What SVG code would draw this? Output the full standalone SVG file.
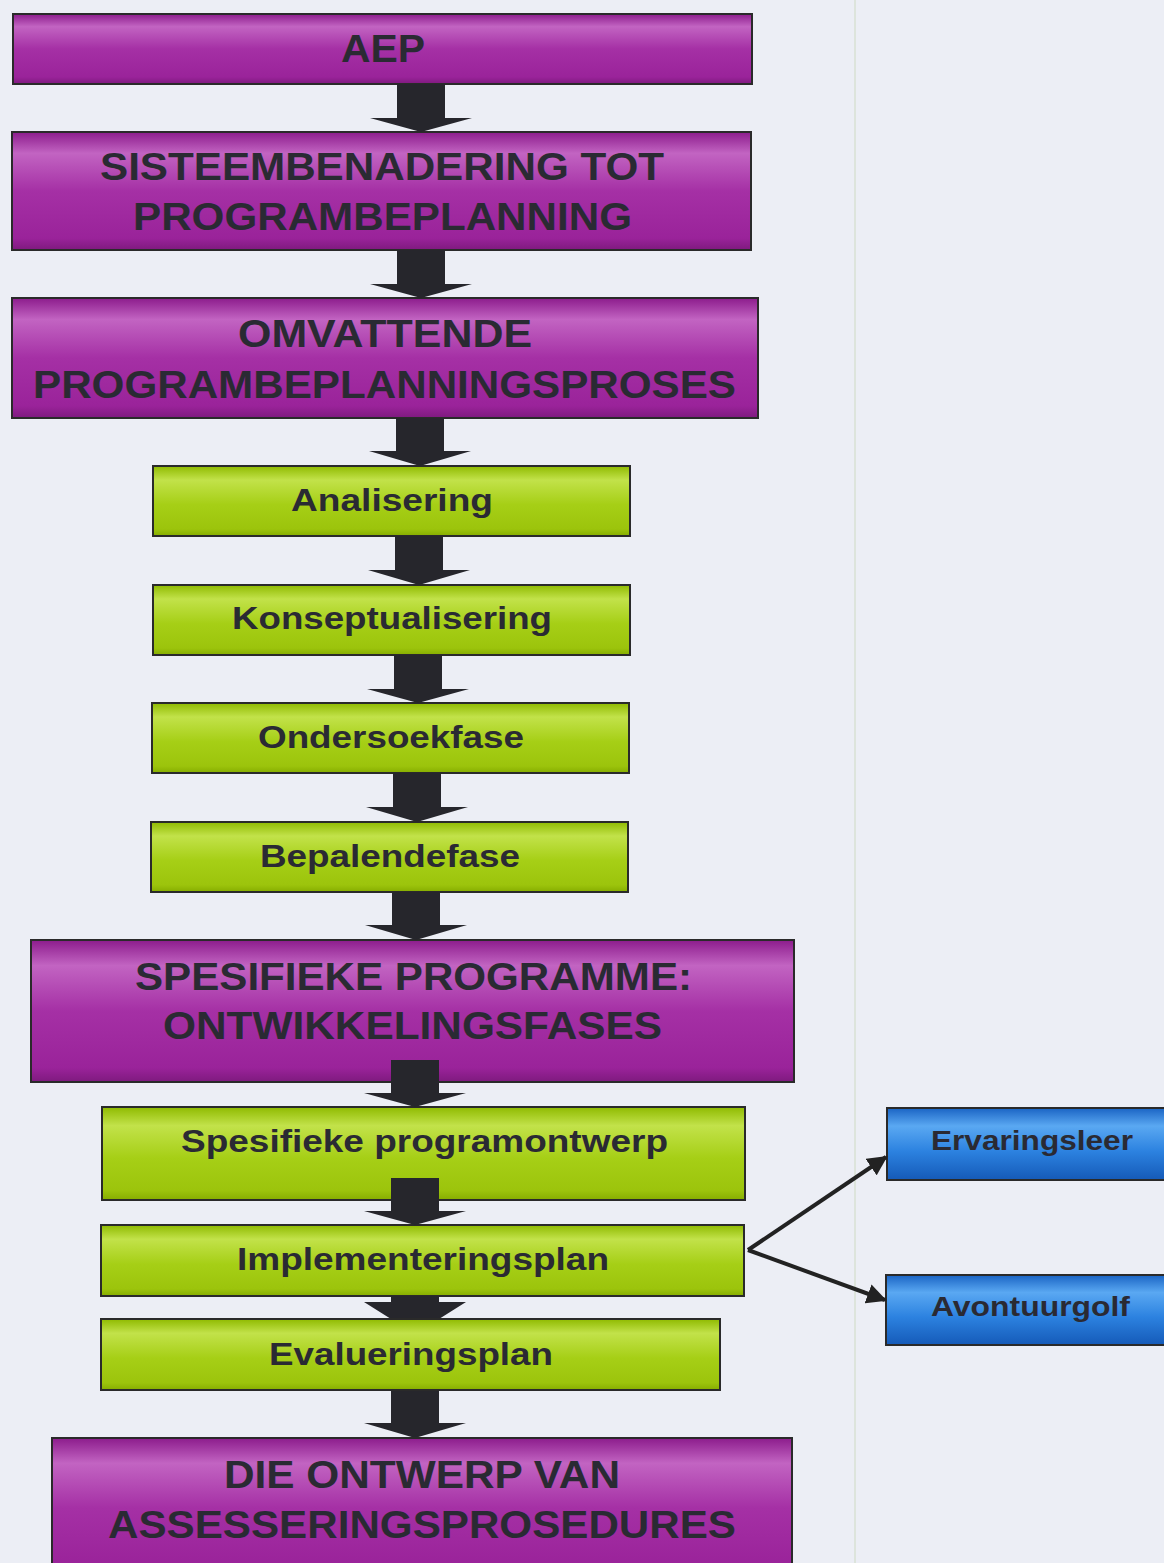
<svg xmlns="http://www.w3.org/2000/svg" width="1164" height="1563" viewBox="0 0 1164 1563">
<defs>
<linearGradient id="gp" x1="0" y1="0" x2="0" y2="1">
<stop offset="0" stop-color="#8c1c8c"/>
<stop offset="0.18" stop-color="#c264c2"/>
<stop offset="0.5" stop-color="#a530a5"/>
<stop offset="0.9" stop-color="#9a239a"/>
<stop offset="1" stop-color="#7e1a7e"/>
</linearGradient>
<linearGradient id="gg" x1="0" y1="0" x2="0" y2="1">
<stop offset="0" stop-color="#8fba00"/>
<stop offset="0.2" stop-color="#c2e24a"/>
<stop offset="0.55" stop-color="#a6cf16"/>
<stop offset="0.9" stop-color="#9cc40c"/>
<stop offset="1" stop-color="#86ad00"/>
</linearGradient>
<linearGradient id="gb" x1="0" y1="0" x2="0" y2="1">
<stop offset="0" stop-color="#1a64c4"/>
<stop offset="0.25" stop-color="#5aa8f2"/>
<stop offset="0.6" stop-color="#2c82e0"/>
<stop offset="1" stop-color="#155ab8"/>
</linearGradient>
<marker id="ah" viewBox="0 0 10 10" refX="9" refY="5" markerWidth="5" markerHeight="5" orient="auto" markerUnits="strokeWidth">
<path d="M0,0 L10,5 L0,10 z" fill="#222"/>
</marker>
</defs>
<style>
.p{fill:url(#gp);stroke:#2a2a2a;stroke-width:2}
.g{fill:url(#gg);stroke:#2a2a2a;stroke-width:2}
.b{fill:url(#gb);stroke:#2a2a2a;stroke-width:2}
text{font-family:"Liberation Sans",Arial,sans-serif;font-weight:bold;fill:#2a2a33;text-anchor:middle}
.tp{font-size:38px}
.tg{font-size:31px}
.tb{font-size:28px}
.ar{fill:#26262c}
.dl{stroke:#222;stroke-width:4;fill:none;marker-end:url(#ah)}
</style>
<rect width="1164" height="1563" fill="#eceef5"/>
<line x1="855" y1="0" x2="855" y2="1563" stroke="#dde4dc" stroke-width="2"/>

<g id="nodes">
<g id="n-aep"><rect class="p" x="13" y="14" width="739" height="70"/><text class="tp" x="383" y="62" textLength="84" lengthAdjust="spacingAndGlyphs">AEP</text></g>
<g id="n-sisteem"><rect class="p" x="12" y="132" width="739" height="118"/><text class="tp" x="382" y="180" textLength="564" lengthAdjust="spacingAndGlyphs">SISTEEMBENADERING TOT</text><text class="tp" x="382.5" y="230" textLength="499" lengthAdjust="spacingAndGlyphs">PROGRAMBEPLANNING</text></g>
<g id="n-omvattende"><rect class="p" x="12" y="298" width="746" height="120"/><text class="tp" x="385" y="347" textLength="294" lengthAdjust="spacingAndGlyphs">OMVATTENDE</text><text class="tp" x="384.5" y="398" textLength="703" lengthAdjust="spacingAndGlyphs">PROGRAMBEPLANNINGSPROSES</text></g>
<g id="n-analisering"><rect class="g" x="153" y="466" width="477" height="70"/><text class="tg" x="392" y="511" textLength="202" lengthAdjust="spacingAndGlyphs">Analisering</text></g>
<g id="n-konsept"><rect class="g" x="153" y="585" width="477" height="70"/><text class="tg" x="392" y="629" textLength="320" lengthAdjust="spacingAndGlyphs">Konseptualisering</text></g>
<g id="n-ondersoek"><rect class="g" x="152" y="703" width="477" height="70"/><text class="tg" x="391" y="748" textLength="266" lengthAdjust="spacingAndGlyphs">Ondersoekfase</text></g>
<g id="n-bepalende"><rect class="g" x="151" y="822" width="477" height="70"/><text class="tg" x="390" y="867" textLength="260" lengthAdjust="spacingAndGlyphs">Bepalendefase</text></g>
<g id="n-spesifieke"><rect class="p" x="31" y="940" width="763" height="142"/><text class="tp" x="413.5" y="990" textLength="557" lengthAdjust="spacingAndGlyphs">SPESIFIEKE PROGRAMME:</text><text class="tp" x="412.5" y="1039" textLength="499" lengthAdjust="spacingAndGlyphs">ONTWIKKELINGSFASES</text></g>
<g id="n-programontwerp"><rect class="g" x="102" y="1107" width="643" height="93"/><text class="tg" x="424.5" y="1152" textLength="487" lengthAdjust="spacingAndGlyphs">Spesifieke programontwerp</text></g>
<g id="n-implementering"><rect class="g" x="101" y="1225" width="643" height="71"/><text class="tg" x="423" y="1270" textLength="372" lengthAdjust="spacingAndGlyphs">Implementeringsplan</text></g>
<g id="n-ervaringsleer"><rect class="b" x="887" y="1108" width="290" height="72"/><text class="tb" x="1032" y="1150" textLength="202" lengthAdjust="spacingAndGlyphs">Ervaringsleer</text></g>
<g id="n-avontuurgolf"><rect class="b" x="886" y="1275" width="290" height="70"/><text class="tb" x="1030.5" y="1316" textLength="199" lengthAdjust="spacingAndGlyphs">Avontuurgolf</text></g>
</g>

<g id="connectors">
<polygon class="ar" points="397,84 445,84 445,118 472,118 421,132 370,118 397,118"/>
<polygon class="ar" points="397,250 445,250 445,284 472,284 421,298 370,284 397,284"/>
<polygon class="ar" points="396,418 444,418 444,451 471,451 420,466 369,451 396,451"/>
<polygon class="ar" points="395,536 443,536 443,570 470,570 419,585 368,570 395,570"/>
<polygon class="ar" points="394,655 442,655 442,689 469,689 418,703 367,689 394,689"/>
<polygon class="ar" points="393,773 441,773 441,807 468,807 417,822 366,807 393,807"/>
<polygon class="ar" points="392,892 440,892 440,925 467,925 416,940 365,925 392,925"/>
<polygon class="ar" points="391,1060 439,1060 439,1093 466,1093 415,1107 364,1093 391,1093"/>
<polygon class="ar" points="391,1178 439,1178 439,1211 466,1211 415,1225 364,1211 391,1211"/>
<polygon class="ar" points="391,1296 439,1296 439,1302 466,1302 439,1319 391,1319 364,1302 391,1302"/>
<polygon class="ar" points="391,1390 439,1390 439,1423 466,1423 415,1438 364,1423 391,1423"/>
<line class="dl" x1="748" y1="1250" x2="886" y2="1157"/>
<line class="dl" x1="748" y1="1250" x2="885" y2="1300"/>
</g>

<g id="nodes2">
<g id="n-evaluering"><rect class="g" x="101" y="1319" width="619" height="71"/><text class="tg" x="411" y="1365" textLength="284" lengthAdjust="spacingAndGlyphs">Evalueringsplan</text></g>
<g id="n-assessering"><rect class="p" x="52" y="1438" width="740" height="140"/><text class="tp" x="422" y="1488" textLength="396" lengthAdjust="spacingAndGlyphs">DIE ONTWERP VAN</text><text class="tp" x="422" y="1538" textLength="628" lengthAdjust="spacingAndGlyphs">ASSESSERINGSPROSEDURES</text></g>
</g>
</svg>
